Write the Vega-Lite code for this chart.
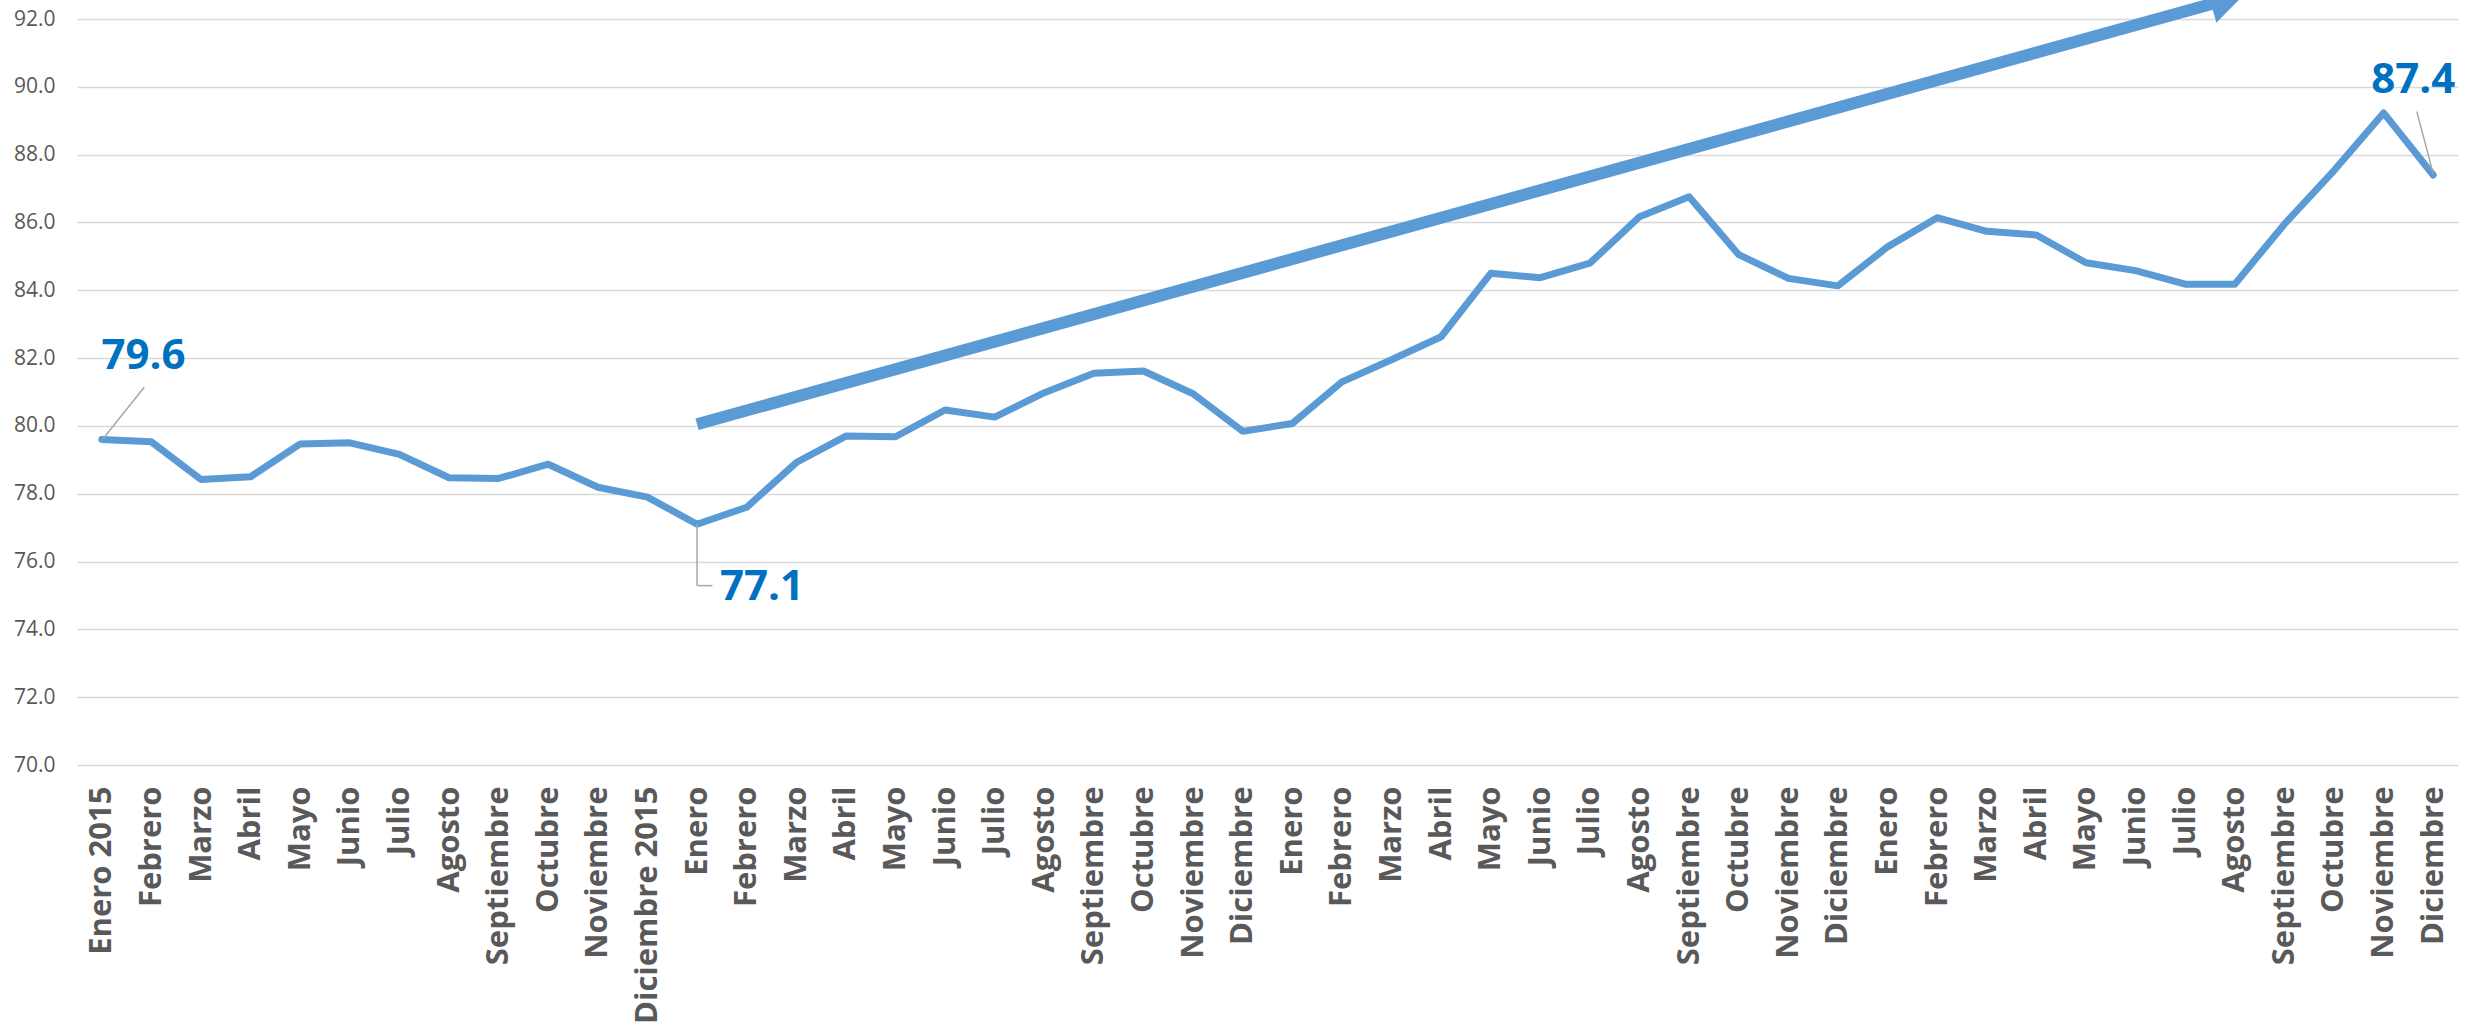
{
  "$schema": "https://vega.github.io/schema/vega-lite/v6.json",
  "autosize": "none",
  "width": 2381,
  "height": 746,
  "padding": {"left": 77, "top": 19, "right": 30, "bottom": 266},
  "background": "white",
  "config": {
    "view": {"stroke": null},
    "font": "Open Sans"
  },
  "datasets": {
    "serie": [
      {"mes": "Enero 2015", "valor": 79.6},
      {"mes": "Febrero 2015", "valor": 79.53},
      {"mes": "Marzo 2015", "valor": 78.42},
      {"mes": "Abril 2015", "valor": 78.5},
      {"mes": "Mayo 2015", "valor": 79.47},
      {"mes": "Junio 2015", "valor": 79.5},
      {"mes": "Julio 2015", "valor": 79.16},
      {"mes": "Agosto 2015", "valor": 78.47},
      {"mes": "Septiembre 2015", "valor": 78.45},
      {"mes": "Octubre 2015", "valor": 78.87},
      {"mes": "Noviembre 2015", "valor": 78.19},
      {"mes": "Diciembre 2015", "valor": 77.9},
      {"mes": "Enero 2016", "valor": 77.1},
      {"mes": "Febrero 2016", "valor": 77.6},
      {"mes": "Marzo 2016", "valor": 78.92},
      {"mes": "Abril 2016", "valor": 79.7},
      {"mes": "Mayo 2016", "valor": 79.68},
      {"mes": "Junio 2016", "valor": 80.47},
      {"mes": "Julio 2016", "valor": 80.26},
      {"mes": "Agosto 2016", "valor": 80.98},
      {"mes": "Septiembre 2016", "valor": 81.55},
      {"mes": "Octubre 2016", "valor": 81.62},
      {"mes": "Noviembre 2016", "valor": 80.95},
      {"mes": "Diciembre 2016", "valor": 79.84},
      {"mes": "Enero 2017", "valor": 80.07},
      {"mes": "Febrero 2017", "valor": 81.3},
      {"mes": "Marzo 2017", "valor": 81.95},
      {"mes": "Abril 2017", "valor": 82.63},
      {"mes": "Mayo 2017", "valor": 84.5},
      {"mes": "Junio 2017", "valor": 84.37},
      {"mes": "Julio 2017", "valor": 84.8},
      {"mes": "Agosto 2017", "valor": 86.17},
      {"mes": "Septiembre 2017", "valor": 86.76},
      {"mes": "Octubre 2017", "valor": 85.05},
      {"mes": "Noviembre 2017", "valor": 84.35},
      {"mes": "Diciembre 2017", "valor": 84.13},
      {"mes": "Enero 2018", "valor": 85.28},
      {"mes": "Febrero 2018", "valor": 86.14},
      {"mes": "Marzo 2018", "valor": 85.74},
      {"mes": "Abril 2018", "valor": 85.63},
      {"mes": "Mayo 2018", "valor": 84.81},
      {"mes": "Junio 2018", "valor": 84.58},
      {"mes": "Julio 2018", "valor": 84.18},
      {"mes": "Agosto 2018", "valor": 84.18},
      {"mes": "Septiembre 2018", "valor": 85.95},
      {"mes": "Octubre 2018", "valor": 87.53},
      {"mes": "Noviembre 2018", "valor": 89.23},
      {"mes": "Diciembre 2018", "valor": 87.4}
    ],
    "tendencia": [
      {"pos": 12, "valor": 80.05},
      {"pos": 42.55, "valor": 92.45}
    ],
    "punta": [
      {"pos": 42.85, "valor": 92.57}
    ],
    "notas": [
      {"pos": 0.84, "valor": 82.07, "texto": "79.6"},
      {"pos": 13.31, "valor": 75.26, "texto": "77.1"},
      {"pos": 46.6, "valor": 90.2, "texto": "87.4"}
    ],
    "guias": [
      {"pos": 0.03, "valor": 79.63, "pos2": 0.855, "valor2": 81.14},
      {"pos": 12, "valor": 77.1, "pos2": 12, "valor2": 75.29},
      {"pos": 12, "valor": 75.29, "pos2": 12.31, "valor2": 75.29},
      {"pos": 46.67, "valor": 89.27, "pos2": 47, "valor2": 87.44}
    ]
  },
  "resolve": {"scale": {"x": "independent"}, "axis": {"x": "independent"}},
  "layer": [
    {
      "data": {"name": "serie"},
      "mark": {"type": "line", "color": "#5B9BD5", "strokeWidth": 7, "strokeJoin": "round", "strokeCap": "round"},
      "encoding": {
        "x": {
          "field": "mes",
          "type": "ordinal",
          "sort": null,
          "scale": {"type": "point", "padding": 0.5},
          "axis": {
            "title": null,
            "labelAngle": -90,
            "labelFont": "Open Sans",
            "labelFontWeight": "bold",
            "labelFontSize": 31,
            "labelColor": "#595959",
            "labelPadding": 21,
            "labelOverlap": false,
            "labelBound": false,
            "labelFlush": false,
            "labelLimit": 0,
            "ticks": false,
            "domain": false,
            "grid": false,
            "labelExpr": "datum.value == 'Enero 2015' || datum.value == 'Diciembre 2015' ? datum.value : split(datum.value, ' ')[0]"
          }
        },
        "y": {
          "field": "valor",
          "type": "quantitative",
          "scale": {"domain": [70, 92], "nice": false, "zero": false},
          "axis": {
            "title": null,
            "values": [70, 72, 74, 76, 78, 80, 82, 84, 86, 88, 90, 92],
            "format": ".1f",
            "labelFont": "Open Sans",
            "labelFontSize": 21,
            "labelColor": "#595959",
            "labelPadding": 22,
            "ticks": false,
            "domain": false,
            "grid": true,
            "gridColor": "#D9D9D9",
            "gridWidth": 1.5
          }
        }
      }
    },
    {
      "data": {"name": "tendencia"},
      "mark": {"type": "line", "color": "#5B9BD5", "strokeWidth": 12, "strokeCap": "butt", "clip": false},
      "encoding": {
        "x": {"field": "pos", "type": "quantitative", "scale": {"domain": [-0.5, 47.5], "nice": false, "zero": false}, "axis": null},
        "y": {"field": "valor", "type": "quantitative"}
      }
    },
    {
      "data": {"name": "punta"},
      "mark": {"type": "point", "shape": "triangle-right", "filled": true, "color": "#5B9BD5", "opacity": 1, "size": 1500, "angle": -15.5, "clip": false},
      "encoding": {
        "x": {"field": "pos", "type": "quantitative", "scale": {"domain": [-0.5, 47.5], "nice": false, "zero": false}, "axis": null},
        "y": {"field": "valor", "type": "quantitative"}
      }
    },
    {
      "data": {"name": "guias"},
      "mark": {"type": "rule", "color": "#A6A6A6", "strokeWidth": 1.5},
      "encoding": {
        "x": {"field": "pos", "type": "quantitative", "scale": {"domain": [-0.5, 47.5], "nice": false, "zero": false}, "axis": null},
        "x2": {"field": "pos2"},
        "y": {"field": "valor", "type": "quantitative"},
        "y2": {"field": "valor2"}
      }
    },
    {
      "data": {"name": "notas"},
      "mark": {"type": "text", "font": "Open Sans", "fontWeight": "bold", "fontSize": 42, "color": "#0070C0", "align": "center", "baseline": "middle"},
      "encoding": {
        "x": {"field": "pos", "type": "quantitative", "scale": {"domain": [-0.5, 47.5], "nice": false, "zero": false}, "axis": null},
        "y": {"field": "valor", "type": "quantitative"},
        "text": {"field": "texto"}
      }
    }
  ]
}
